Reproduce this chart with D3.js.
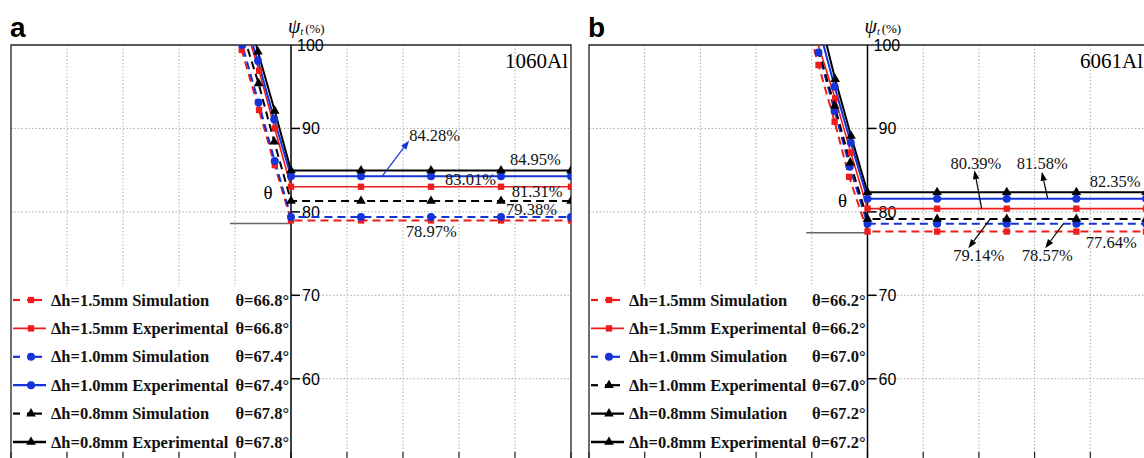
<!DOCTYPE html>
<html><head><meta charset="utf-8">
<script src="https://cdn.jsdelivr.net/npm/d3@7"></script>
<style>body{margin:0;background:#fff;} svg{display:block;}</style>
</head><body><svg id="c" width="1144" height="458"></svg>
<script>
// ---------- data ----------
const yTicks = [60, 70, 80, 90, 100];
const xGrid = [-5, -4, -3, -2, -1, 0, 1, 2, 3, 4, 5];
const markerU = [0, 1.25, 2.5, 3.75, 5];
const seriesKeys = ["S15", "E15", "S10", "E10", "S08", "E08"];

// panel a (1060Al): plateau value, slope marker points, exit point at top
const aLevels = [78.97, 83.01, 79.38, 84.28, 81.31, 84.95];
const aSlopeU = [[-0.29, -0.57, -0.88], [-0.29, -0.57], [-0.29, -0.58, -0.87], [-0.30, -0.59], [-0.30, -0.58], [-0.29, -0.59]];
const aSlopeV = [[85.6, 92.2, 99.4], [90.0, 96.9], [86.1, 93.1, 100.0], [91.1, 98.1], [88.4, 95.4], [92.1, 99.2]];
const aTopU = [-0.96, -0.76, -0.92, -0.73, -0.84, -0.66];
const aLegendLabels = ["Δh=1.5mm Simulation", "Δh=1.5mm Experimental", "Δh=1.0mm Simulation", "Δh=1.0mm Experimental", "Δh=0.8mm Simulation", "Δh=0.8mm Experimental"];
const aLegendTheta = ["θ=66.8°", "θ=66.8°", "θ=67.4°", "θ=67.4°", "θ=67.8°", "θ=67.8°"];
const aLegendKeys = ["S15", "E15", "S10", "E10", "S08", "E08"];
const aAnnoText = ["84.28%", "84.95%", "83.01%", "81.31%", "79.38%", "78.97%"];

// panel b (6061Al)
const bLevels = [77.64, 80.39, 78.57, 81.58, 79.14, 82.35];
const bSlopeU = [[-0.33, -0.59, -0.88], [-0.30, -0.58], [-0.32, -0.59, -0.88], [-0.30, -0.59], [-0.31, -0.59], [-0.295, -0.58]];
const bSlopeV = [[84.2, 90.8, 97.6], [87.1, 93.6], [85.4, 92.1, 99.1], [88.3, 95.0], [85.9, 92.7], [89.1, 95.9]];
const bTopU = [-1.02, -0.93, -0.96, -0.83, -0.95, -0.77];
const bLegendLabels = ["Δh=1.5mm Simulation", "Δh=1.5mm Experimental", "Δh=1.0mm Simulation", "Δh=1.0mm Experimental", "Δh=0.8mm Simulation", "Δh=0.8mm Experimental"];
const bLegendTheta = ["θ=66.2°", "θ=66.2°", "θ=67.0°", "θ=67.0°", "θ=67.2°", "θ=67.2°"];
const bLegendKeys = ["S15", "E15", "S10", "S08", "E08", "E08"];
const bAnnoText = ["80.39%", "81.58%", "82.35%", "79.14%", "78.57%", "77.64%"];

// ---------- layout / style ----------
const RED = "#ee1c1c", BLUE = "#1434d8", BLACK = "#000";
const styles = {
  S15: {color: RED, dash: "8,5", shape: d3.symbolSquare, size: 40, width: 2},
  E15: {color: RED, dash: null, shape: d3.symbolSquare, size: 40, width: 1.6},
  S10: {color: BLUE, dash: "8,5", shape: d3.symbolCircle, size: 50, width: 2},
  E10: {color: BLUE, dash: null, shape: d3.symbolCircle, size: 50, width: 2},
  S08: {color: BLACK, dash: "8,5", shape: d3.symbolTriangle, size: 40, width: 2},
  E08: {color: BLACK, dash: null, shape: d3.symbolTriangle, size: 40, width: 2}
};
const panels = [
  {id: "a", left: 11, right: 571, levels: aLevels, su: aSlopeU, sv: aSlopeV, top: aTopU,
   lLabels: aLegendLabels, lTheta: aLegendTheta, lKeys: aLegendKeys, material: "1060Al",
   annoText: aAnnoText,
   annoPos: [[2.11, 88.53], [3.91, 85.62], [2.75, 83.22], [3.94, 81.75], [3.84, 79.63], [2.05, 77.03]],
   arrows: [{from: [1.63, 84.28], to: [2.11, 88.55], color: BLUE}],
   thetaPos: [-0.41, 81.6], thetaLine: [-1.09, 78.6]},
  {id: "b", left: 589, right: 1146, levels: bLevels, su: bSlopeU, sv: bSlopeV, top: bTopU,
   lLabels: bLegendLabels, lTheta: bLegendTheta, lKeys: bLegendKeys, material: "6061Al",
   annoText: bAnnoText,
   annoPos: [[1.49, 85.1], [2.68, 85.1], [3.99, 83.02], [1.54, 74.15], [2.77, 74.15], [3.92, 75.64]],
   arrows: [{from: [2.05, 80.39], to: [1.92, 85.0], color: BLACK},
            {from: [3.235, 81.58], to: [3.13, 84.8], color: BLACK},
            {from: [2.2, 79.14], to: [1.81, 75.64], color: BLACK},
            {from: [3.515, 78.57], to: [3.19, 75.64], color: BLACK}],
   thetaPos: [-0.45, 80.6], thetaLine: [-1.1, 77.5]}
];

const svg = d3.select("#c");
const TOP = 45, BOTTOM = 458;
const y = d3.scaleLinear().domain([50.5, 100]).range([BOTTOM, TOP]);
const serif = "'Liberation Serif','Times New Roman',serif";
const sans = "'Liberation Sans',Arial,sans-serif";

panels.forEach((p, pi) => {
  const x = d3.scaleLinear().domain([-5, 5]).range([p.left, p.right]);
  const ax = x(0);
  const g = svg.append("g");
  const clipId = "clip" + p.id;
  svg.append("clipPath").attr("id", clipId).append("rect")
    .attr("x", p.left).attr("y", TOP).attr("width", p.right - p.left).attr("height", BOTTOM - TOP);

  // grid
  const grid = g.append("g").attr("stroke", "#aaa").attr("stroke-width", 1).attr("stroke-dasharray", "1.5,2");
  xGrid.filter(u => u !== -5 && u !== 5 && u !== 0).forEach(u => {
    grid.append("line").attr("x1", x(u)).attr("x2", x(u)).attr("y1", TOP).attr("y2", BOTTOM);
  });
  yTicks.filter(v => v < 100).forEach(v => {
    grid.append("line").attr("x1", p.left).attr("x2", p.right).attr("y1", y(v)).attr("y2", y(v));
  });

  // legend background (covers grid on left lower part)
  const L = p.left;
  g.append("rect").attr("x", L + 1).attr("y", 287).attr("width", ax - L - 2).attr("height", 163).attr("fill", "#fff");

  // frame
  g.append("path").attr("d", `M${p.left},${BOTTOM}V${TOP}H${p.right}V${BOTTOM}`)
    .attr("fill", "none").attr("stroke", "#222").attr("stroke-width", 1.3);

  // bottom ticks
  xGrid.forEach(u => {
    g.append("line").attr("x1", x(u)).attr("x2", x(u)).attr("y1", BOTTOM).attr("y2", BOTTOM - 6)
      .attr("stroke", "#222").attr("stroke-width", 1.2);
  });

  // y axis
  g.append("line").attr("x1", ax).attr("x2", ax).attr("y1", TOP).attr("y2", BOTTOM)
    .attr("stroke", "#000").attr("stroke-width", 1.5);
  yTicks.forEach(v => {
    if (v < 100) g.append("line").attr("x1", ax).attr("x2", ax + 9).attr("y1", y(v)).attr("y2", y(v))
      .attr("stroke", "#000").attr("stroke-width", 1.5);
    g.append("text").attr("x", v < 100 ? ax + 11 : ax + 6).attr("y", y(v) + 6)
      .attr("font-family", sans).attr("font-size", 16).text(v);
  });
  // axis title
  const tt = g.append("text").attr("x", ax - 3).attr("y", 33).attr("font-family", serif);
  tt.append("tspan").attr("font-style", "italic").attr("font-size", 20).text("ψ");
  tt.append("tspan").attr("font-style", "italic").attr("font-size", 10).attr("dy", 2).text("t");
  tt.append("tspan").attr("font-size", 13).attr("dy", -2).attr("dx", 2).text("(%)");

  // panel label
  g.append("text").attr("x", p.left - 1).attr("y", 37).attr("font-family", sans).attr("font-weight", "bold")
    .attr("font-size", 28).text(p.id);
  // material
  g.append("text").attr("x", p.right - 3).attr("y", 68).attr("text-anchor", "end")
    .attr("font-family", serif).attr("font-size", 21).text(p.material);

  // theta reference
  g.append("line").attr("x1", x(p.thetaLine[0])).attr("x2", ax).attr("y1", y(p.thetaLine[1])).attr("y2", y(p.thetaLine[1]))
    .attr("stroke", "#666").attr("stroke-width", 1.5);
  g.append("text").attr("x", x(p.thetaPos[0])).attr("y", y(p.thetaPos[1])).attr("text-anchor", "middle")
    .attr("font-family", serif).attr("font-size", 19).text("θ");

  // series
  const plot = g.append("g").attr("clip-path", `url(#${clipId})`);
  const line = d3.line().x(d => x(d[0])).y(d => y(d[1]));
  seriesKeys.forEach((k, i) => {
    const st = styles[k];
    const pts = [[p.top[i], 101]];
    for (let j = p.su[i].length - 1; j >= 0; j--) pts.push([p.su[i][j], p.sv[i][j]]);
    pts.push([0, p.levels[i]]);
    pts.push([5.3, p.levels[i]]);
    plot.append("path").attr("d", line(pts)).attr("fill", "none").attr("stroke", st.color)
      .attr("stroke-width", st.width).attr("stroke-dasharray", st.dash);
  });
  seriesKeys.forEach((k, i) => {
    const st = styles[k];
    const mk = p.su[i].map((u, j) => [u, p.sv[i][j]]).concat(markerU.map(u => [u, p.levels[i]]));
    plot.selectAll(null).data(mk).join("path")
      .attr("transform", d => `translate(${x(d[0])},${y(d[1])})`)
      .attr("d", d3.symbol().type(st.shape).size(st.size)).attr("fill", st.color);
  });

  // annotations
  p.annoText.forEach((t, i) => {
    g.append("text").attr("x", x(p.annoPos[i][0])).attr("y", y(p.annoPos[i][1]))
      .attr("font-family", serif).attr("font-size", 16.5).attr("fill", "#111").text(t);
  });
  p.arrows.forEach(a => {
    const x1 = x(a.from[0]), y1 = y(a.from[1]), x2 = x(a.to[0]), y2 = y(a.to[1]);
    const ang = Math.atan2(y2 - y1, x2 - x1), len = 9, hw = 3.2;
    const bx = x2 - len * Math.cos(ang), by = y2 - len * Math.sin(ang);
    g.append("line").attr("x1", x1).attr("y1", y1).attr("x2", bx).attr("y2", by)
      .attr("stroke", a.color).attr("stroke-width", 1.2);
    g.append("path").attr("d", `M${x2},${y2}L${bx - hw * Math.sin(ang)},${by + hw * Math.cos(ang)}L${bx + hw * Math.sin(ang)},${by - hw * Math.cos(ang)}Z`)
      .attr("fill", a.color);
  });

  // legend
  const rowY = d3.range(6).map(r => 300 + r * 28.4);
  p.lKeys.forEach((k, r) => {
    const st = styles[k];
    const ry = rowY[r];
    if (st.dash) {
      g.append("line").attr("x1", L + 2).attr("x2", L + 9).attr("y1", ry).attr("y2", ry)
        .attr("stroke", st.color).attr("stroke-width", 2.2);
      g.append("line").attr("x1", L + 16).attr("x2", L + 31).attr("y1", ry).attr("y2", ry)
        .attr("stroke", st.color).attr("stroke-width", 2.2);
    } else {
      g.append("line").attr("x1", L + 2).attr("x2", L + 35).attr("y1", ry).attr("y2", ry)
        .attr("stroke", st.color).attr("stroke-width", st.width + 0.3);
    }
    g.append("path").attr("transform", `translate(${L + 20},${ry})`)
      .attr("d", d3.symbol().type(st.shape).size(st.size)).attr("fill", st.color);
    g.append("text").attr("x", L + 40).attr("y", ry + 5.5).attr("font-family", serif)
      .attr("font-weight", "bold").attr("font-size", 16.5).attr("fill", "#111").text(p.lLabels[r]);
    g.append("text").attr("x", ax - 2).attr("y", ry + 5.5).attr("text-anchor", "end").attr("font-family", serif)
      .attr("font-weight", "bold").attr("font-size", 16.5).attr("fill", "#111").text(p.lTheta[r]);
  });
});
</script></body></html>
